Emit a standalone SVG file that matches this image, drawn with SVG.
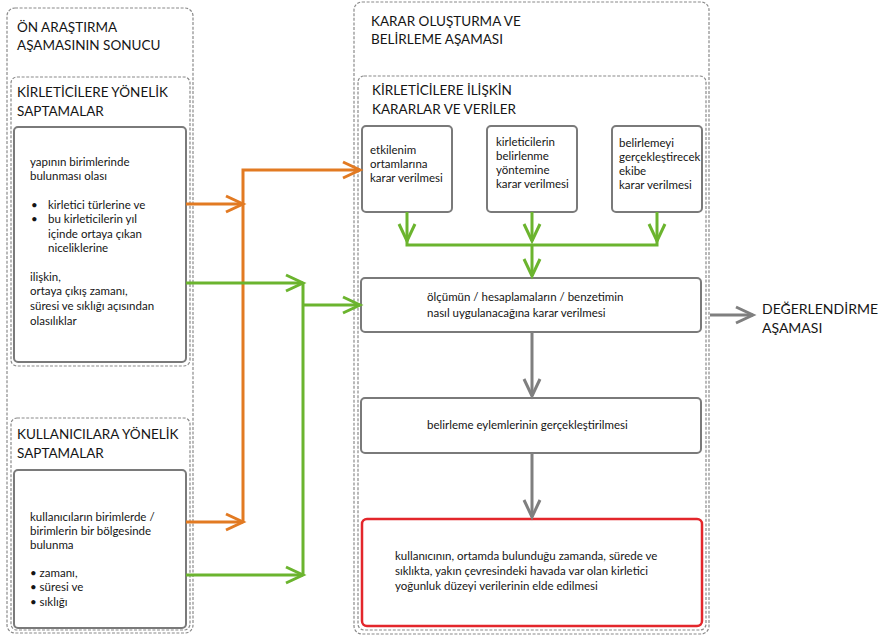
<svg xmlns="http://www.w3.org/2000/svg" width="881" height="636" viewBox="0 0 881 636">
<style>
.dash{fill:none;stroke:#8a8a8a;stroke-width:1.2;stroke-dasharray:3 1.6}
.box{fill:#fff;stroke:#7a7a7a;stroke-width:2}
.red{fill:#fff;stroke:#e3262b;stroke-width:2.5}
.title{font-family:Lato,"Liberation Sans",Arial,sans-serif;font-size:13.5px;fill:#151515}
.big{font-family:Lato,"Liberation Sans",Arial,sans-serif;font-size:14px;fill:#151515}
.t{font-family:Lato,"Liberation Sans",Arial,sans-serif;font-size:11.5px;fill:#151515}
.or{fill:none;stroke:#e27a22;stroke-width:3}
.gr{fill:none;stroke:#6bb42e;stroke-width:3}
.gy{fill:none;stroke:#7f7f7f;stroke-width:3}
</style>
<defs>
<marker id="ao" markerUnits="userSpaceOnUse" markerWidth="22" markerHeight="20" refX="18" refY="9" orient="auto" overflow="visible"><path d="M1,1 L18,9 L1,17" fill="none" stroke="#e27a22" stroke-width="3"/></marker>
<marker id="ag" markerUnits="userSpaceOnUse" markerWidth="22" markerHeight="20" refX="18" refY="9" orient="auto" overflow="visible"><path d="M1,1 L18,9 L1,17" fill="none" stroke="#6bb42e" stroke-width="3"/></marker>
<marker id="ay" markerUnits="userSpaceOnUse" markerWidth="22" markerHeight="20" refX="18" refY="9" orient="auto" overflow="visible"><path d="M1,1 L18,9 L1,17" fill="none" stroke="#7f7f7f" stroke-width="3"/></marker>
</defs>
<rect width="881" height="636" fill="#fff"/>

<g id="on-arastirma">
<rect class="dash" x="7" y="8" width="186" height="625" rx="8"/>
<text class="title" x="17" y="32">ÖN ARAŞTIRMA</text>
<text class="title" x="17" y="50">AŞAMASININ SONUCU</text>
</g>

<g id="kirleticilere-yonelik">
<rect class="dash" x="11" y="77" width="179" height="289" rx="6"/>
<text class="title" x="17" y="97">KİRLETİCİLERE YÖNELİK</text>
<text class="title" x="17" y="116">SAPTAMALAR</text>
<rect class="box" x="14" y="127" width="172" height="235" rx="4"/>
<text class="t" x="30" y="166">yapının birimlerinde</text>
<text class="t" x="30" y="180">bulunması olası</text>
<text class="t" x="31" y="209">•</text><text class="t" x="48" y="209">kirletici türlerine ve</text>
<text class="t" x="31" y="223">•</text><text class="t" x="48" y="223">bu kirleticilerin yıl</text>
<text class="t" x="48" y="238">içinde ortaya çıkan</text>
<text class="t" x="48" y="252">niceliklerine</text>
<text class="t" x="30" y="281">ilişkin,</text>
<text class="t" x="30" y="295">ortaya çıkış zamanı,</text>
<text class="t" x="30" y="310">süresi ve sıklığı açısından</text>
<text class="t" x="30" y="325">olasılıklar</text>
</g>

<g id="kullanicilara-yonelik">
<rect class="dash" x="11" y="418" width="179" height="212" rx="6"/>
<text class="title" x="17" y="439">KULLANICILARA YÖNELİK</text>
<text class="title" x="17" y="458">SAPTAMALAR</text>
<rect class="box" x="14" y="470" width="172" height="158" rx="4"/>
<text class="t" x="30" y="521">kullanıcıların birimlerde /</text>
<text class="t" x="30" y="535">birimlerin bir bölgesinde</text>
<text class="t" x="30" y="549">bulunma</text>
<text class="t" x="30" y="577">• zamanı,</text>
<text class="t" x="30" y="591">• süresi ve</text>
<text class="t" x="30" y="606">• sıklığı</text>
</g>

<g id="karar-olusturma">
<rect class="dash" x="354" y="2" width="355" height="632" rx="8"/>
<text class="title" x="371" y="26">KARAR OLUŞTURMA VE</text>
<text class="title" x="371" y="44">BELİRLEME AŞAMASI</text>
</g>

<g id="kararlar-veriler">
<rect class="dash" x="358" y="76" width="348" height="554" rx="6"/>
<text class="title" x="372" y="95">KİRLETİCİLERE İLİŞKİN</text>
<text class="title" x="372" y="114">KARARLAR VE VERİLER</text>
</g>

<g id="etkilenim">
<rect class="box" x="362" y="126" width="90" height="86" rx="4"/>
<text class="t" x="370" y="154">etkilenim</text>
<text class="t" x="370" y="168">ortamlarına</text>
<text class="t" x="370" y="182">karar verilmesi</text>
</g>
<g id="yontem">
<rect class="box" x="487" y="126" width="90" height="86" rx="4"/>
<text class="t" x="496" y="146">kirleticilerin</text>
<text class="t" x="496" y="160">belirlenme</text>
<text class="t" x="496" y="174">yöntemine</text>
<text class="t" x="496" y="188">karar verilmesi</text>
</g>
<g id="ekip">
<rect class="box" x="612" y="126" width="90" height="86" rx="4"/>
<text class="t" x="619" y="147">belirlemeyi</text>
<text class="t" x="619" y="161">gerçekleştirecek</text>
<text class="t" x="619" y="175">ekibe</text>
<text class="t" x="619" y="189">karar verilmesi</text>
</g>
<g id="olcum">
<rect class="box" x="361" y="278" width="340" height="54" rx="4"/>
<text class="t" x="427" y="301">ölçümün / hesaplamaların / benzetimin</text>
<text class="t" x="427" y="317">nasıl uygulanacağına karar verilmesi</text>
</g>
<g id="eylem">
<rect class="box" x="361" y="398" width="340" height="55" rx="4"/>
<text class="t" x="427" y="429">belirleme eylemlerinin gerçekleştirilmesi</text>
</g>
<g id="sonuc">
<rect class="red" x="362" y="519" width="340" height="107" rx="5"/>
<text class="t" x="395" y="560">kullanıcının, ortamda bulunduğu zamanda, sürede ve</text>
<text class="t" x="395" y="575">sıklıkta, yakın çevresindeki havada var olan kirletici</text>
<text class="t" x="395" y="590">yoğunluk düzeyi verilerinin elde edilmesi</text>
</g>
<g id="degerlendirme">
<text class="big" x="762" y="314">DEĞERLENDİRME</text>
<text class="big" x="762" y="333">AŞAMASI</text>
</g>

<g id="connectors">
<path class="or" d="M186,204 H243" marker-end="url(#ao)"/>
<path class="or" d="M186,522 H243" marker-end="url(#ao)"/>
<path class="or" d="M243,522 V170 H360" marker-end="url(#ao)"/>
<path class="gr" d="M186,283 H303" marker-end="url(#ag)"/>
<path class="gr" d="M186,575 H303" marker-end="url(#ag)"/>
<path class="gr" d="M303,575 V283"/>
<path class="gr" d="M303,305 H360" marker-end="url(#ag)"/>
<path class="gr" d="M407,212 V241" marker-end="url(#ag)"/>
<path class="gr" d="M532,212 V241" marker-end="url(#ag)"/>
<path class="gr" d="M657,212 V241" marker-end="url(#ag)"/>
<path class="gr" d="M407,240 V245 H657 V240"/>
<path class="gr" d="M532,245 V276" marker-end="url(#ag)"/>
<path class="gy" d="M532,332 V396" marker-end="url(#ay)"/>
<path class="gy" d="M532,453 V517" marker-end="url(#ay)"/>
<path class="gy" d="M710,315 H753" stroke-width="3.5" marker-end="url(#ay)"/>
</g>
</svg>
